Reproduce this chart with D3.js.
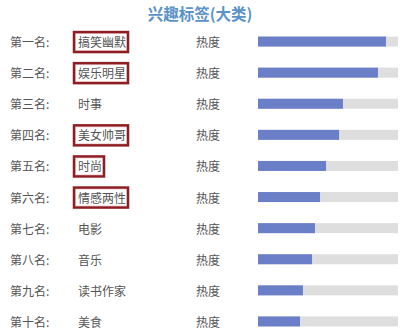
<!DOCTYPE html>
<html>
<head>
<meta charset="utf-8">
<script src="https://cdn.jsdelivr.net/npm/d3@7"></script>
<style>
  body { margin: 0; background: #fff; }
  text { font-family: "Noto Sans CJK SC", "Noto Sans", sans-serif; }
</style>
</head>
<body>
<div id="chart"></div>
<script>
'use strict';

// Chart data
var title = '兴趣标签(大类)';
var ranks = ['第一名:', '第二名:', '第三名:', '第四名:', '第五名:', '第六名:', '第七名:', '第八名:', '第九名:', '第十名:'];
var tags = ['搞笑幽默', '娱乐明星', '时事', '美女帅哥', '时尚', '情感两性', '电影', '音乐', '读书作家', '美食'];
var heat = [0.914, 0.857, 0.607, 0.579, 0.486, 0.443, 0.407, 0.386, 0.321, 0.30];
var boxed = [true, true, false, true, true, true, false, false, false, false];

var width = 410, height = 333;

var svg = d3.select('#chart').append('svg')
  .attr('width', width)
  .attr('height', height);

var y = d3.scaleBand()
  .domain(d3.range(ranks.length))
  .range([26, 337]);

var x = d3.scaleLinear()
  .domain([0, 1])
  .range([258, 398]);

var barH = 10;
var fontSize = 12;

svg.append('text')
  .attr('x', 200)
  .attr('y', 13)
  .attr('text-anchor', 'middle')
  .attr('dominant-baseline', 'central')
  .attr('font-size', 15.5)
  .attr('font-weight', 'bold')
  .attr('fill', '#5b93c8')
  .text(title);

var rows = svg.selectAll('.row')
  .data(d3.range(ranks.length))
  .enter().append('g')
  .attr('class', 'row')
  .attr('transform', function(i) { return 'translate(0,' + (y(i) + y.bandwidth() / 2) + ')'; });

rows.append('text')
  .attr('x', 10)
  .attr('dominant-baseline', 'central')
  .attr('font-size', fontSize)
  .attr('fill', '#555')
  .text(function(i) { return ranks[i]; });

var labels = rows.append('text')
  .attr('x', 78)
  .attr('dominant-baseline', 'central')
  .attr('font-size', fontSize)
  .attr('fill', '#555')
  .text(function(i) { return tags[i]; });

// red highlight boxes around some of the tags
labels.each(function(i) {
  if (!boxed[i]) return;
  var w = this.getComputedTextLength();
  var g = d3.select(this.parentNode);
  g.insert('rect', 'text')
    .attr('x', 75.5)
    .attr('y', -8)
    .attr('width', w + 3.5)
    .attr('height', 17)
    .attr('fill', 'none')
    .attr('stroke', '#f2cccc')
    .attr('stroke-width', 1);
  g.insert('rect', 'text')
    .attr('x', 74)
    .attr('y', -9.5)
    .attr('width', w + 6)
    .attr('height', 20)
    .attr('fill', 'none')
    .attr('stroke', '#8e1e24')
    .attr('stroke-width', 2.5);
});

rows.append('text')
  .attr('x', 196)
  .attr('dominant-baseline', 'central')
  .attr('font-size', fontSize)
  .attr('fill', '#555')
  .text('热度');

rows.append('rect')
  .attr('x', x(0))
  .attr('y', -barH / 2)
  .attr('width', x(1) - x(0))
  .attr('height', barH)
  .attr('fill', '#dedede');

rows.append('rect')
  .attr('x', x(0))
  .attr('y', -barH / 2)
  .attr('width', function(i) { return x(heat[i]) - x(0); })
  .attr('height', barH)
  .attr('fill', '#6a7fc8');
</script>
</body>
</html>
